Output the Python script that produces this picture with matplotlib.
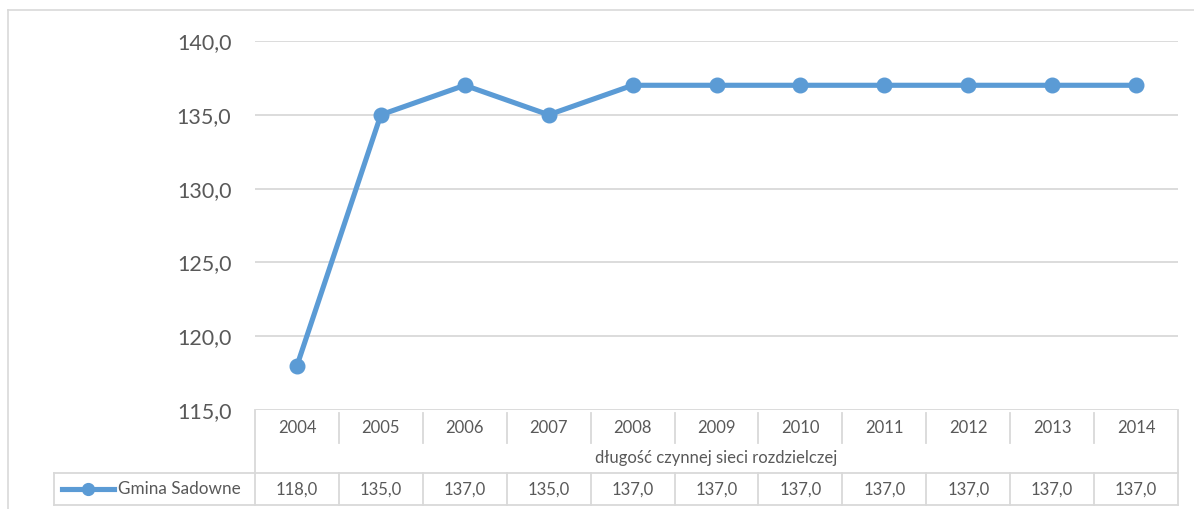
import matplotlib.pyplot as plt
from matplotlib.transforms import blended_transform_factory

years = ["2004", "2005", "2006", "2007", "2008", "2009", "2010", "2011", "2012", "2013", "2014"]
values = [118.0, 135.0, 137.0, 135.0, 137.0, 137.0, 137.0, 137.0, 137.0, 137.0, 137.0]
yticks = [115, 120, 125, 130, 135, 140]
series_name = "Gmina Sadowne"
category_title = "długość czynnej sieci rozdzielczej"

plt.rcParams['font.family'] = ['Lato', 'DejaVu Sans']
W, H = 1194, 509
blue = "#5B9BD5"
grid = "#D9D9D9"
txt = "#595959"

fig = plt.figure(figsize=(W / 100, H / 100), dpi=100)

# overlay in pixel coords for the frame and table
ov = fig.add_axes([0, 0, 1, 1])
ov.set_xlim(0, W)
ov.set_ylim(H, 0)
ov.axis("off")

L, R, T, B = 255, 1178, 41, 410
ax = fig.add_axes([L / W, 1 - B / H, (R - L) / W, (B - T) / H])
ax.set_xlim(-0.5, len(years) - 0.5)
ax.set_ylim(115, 140)
ax.set_yticks(yticks)
ax.set_yticklabels([f"{v:.1f}".replace(".", ",") for v in yticks], fontsize=15.5, color=txt)
ax.tick_params(axis="y", length=0, pad=17)
ax.set_xticks([])
for s in ax.spines.values():
    s.set_visible(False)
for v in yticks:
    ax.axhline(v, color=grid, lw=1.3, zorder=1)

x = list(range(len(years)))
ax.plot(x, values, color=blue, lw=3.7, marker="o", ms=10.5, zorder=3, clip_on=False)

# outer chart border
ov.plot([8, W], [10, 10], color=grid, lw=1.2)
ov.plot([8, 8], [10, H], color=grid, lw=1.2)

# data table
tr = blended_transform_factory(ax.transData, ov.transData)
lc = "#D9D9D9"
ov.plot([L, L], [B, 505], color=lc, lw=1.3)
ov.plot([R, R], [B, 505], color=lc, lw=1.3)
ov.plot([54, R], [473, 473], color=lc, lw=1.3)
ov.plot([54, R], [505, 505], color=lc, lw=1.3)
ov.plot([54, 54], [473, 505], color=lc, lw=1.3)
for i in range(1, len(years)):
    ax.plot([i - 0.5, i - 0.5], [413, 443], color=lc, lw=1.3, transform=tr, clip_on=False)
    ax.plot([i - 0.5, i - 0.5], [473, 505], color=lc, lw=1.3, transform=tr, clip_on=False)
for i, (yr, v) in enumerate(zip(years, values)):
    ax.text(i, 428, yr, transform=tr, ha="center", va="center", fontsize=12, color=txt)
    ax.text(i, 490, f"{v:.1f}".replace(".", ","), transform=tr, ha="center", va="center",
            fontsize=12, color=txt)
ov.text((L + R) / 2, 458, category_title, ha="center", va="center", fontsize=12, color=txt)

# legend key in table
ov.plot([62, 114], [489, 489], color=blue, lw=3.7)
ov.plot([88], [489], marker="o", color=blue, ms=8.5)
ov.text(118, 489, series_name, ha="left", va="center", fontsize=12.3, color=txt)

fig.savefig("out.png", dpi=100)
